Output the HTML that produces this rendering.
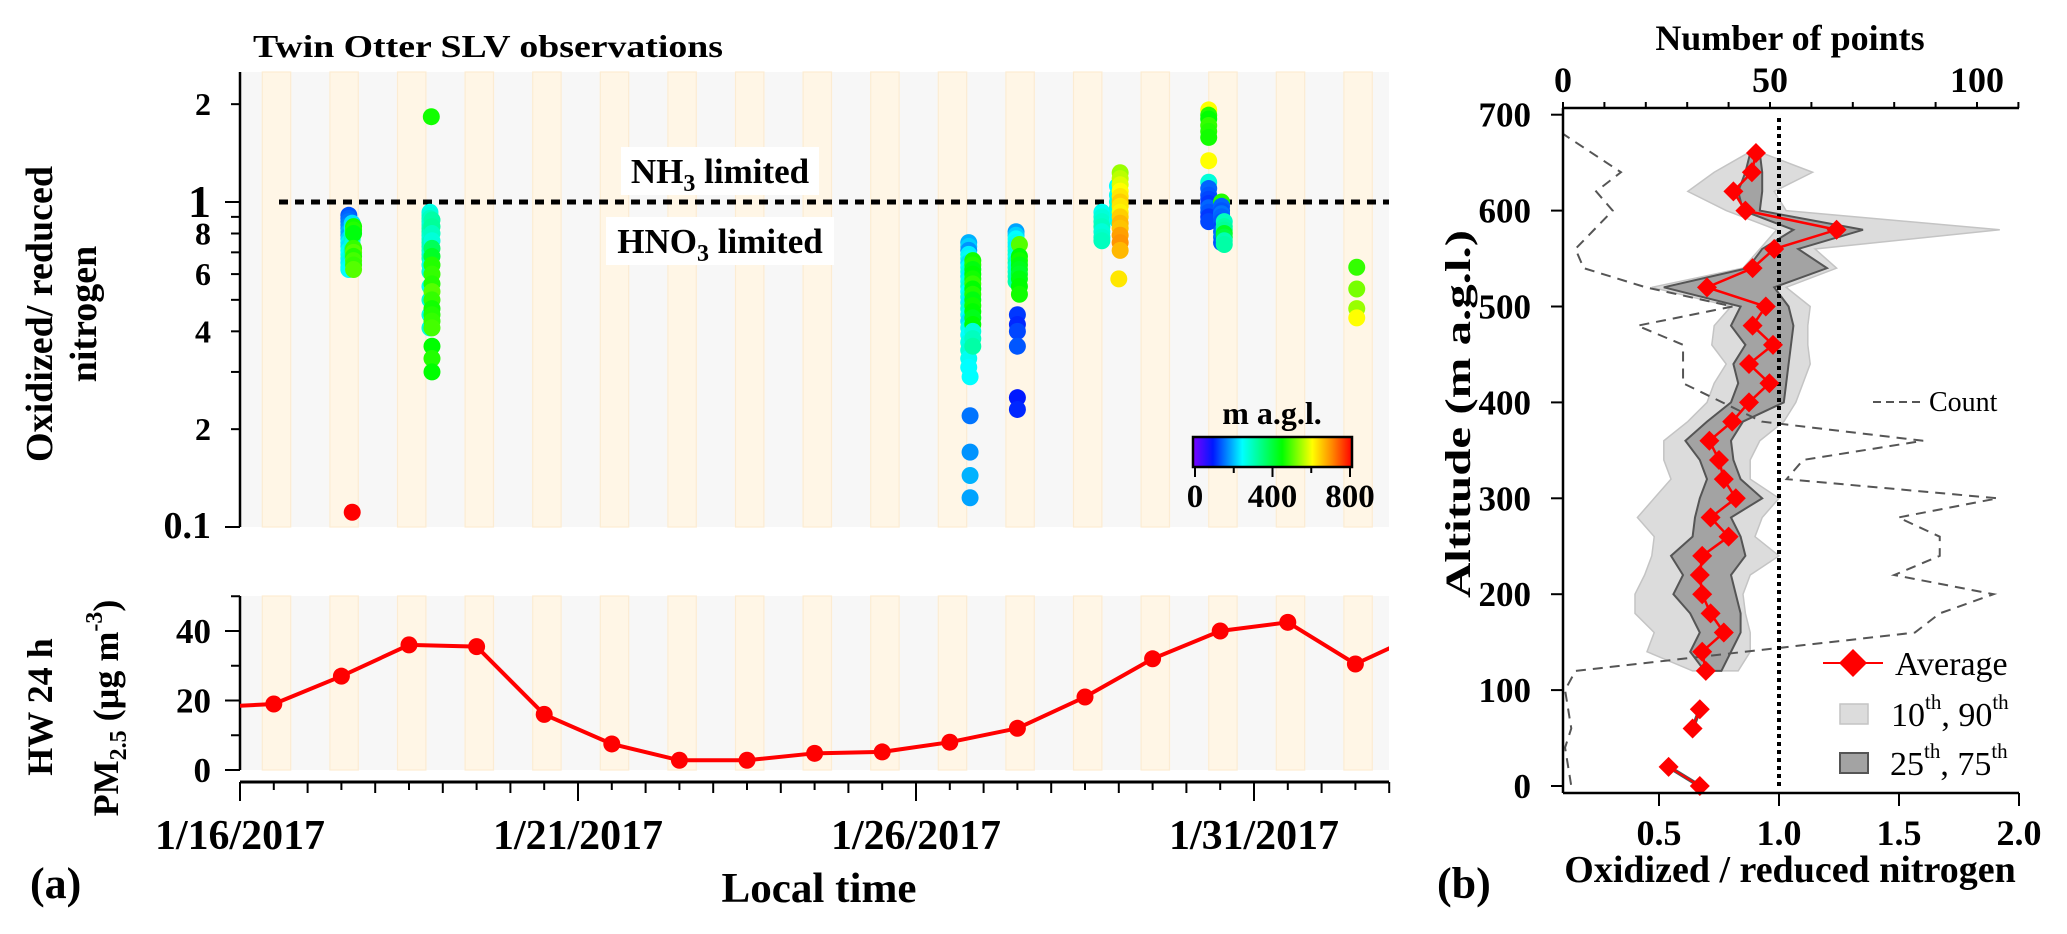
<!DOCTYPE html>
<html><head><meta charset="utf-8"><style>
html,body{margin:0;padding:0;background:#fff;}
svg{display:block;font-family:"Liberation Serif",serif;}
</style></head><body>
<svg id="fig" width="2067" height="934" viewBox="0 0 2067 934" xmlns="http://www.w3.org/2000/svg">
<defs>
<linearGradient id="jet" x1="0" x2="1" y1="0" y2="0">
<stop offset="0" stop-color="#7a00ff"/><stop offset="0.125" stop-color="#0018ff"/><stop offset="0.31" stop-color="#00ffff"/><stop offset="0.56" stop-color="#00ff00"/><stop offset="0.75" stop-color="#ffff00"/><stop offset="0.875" stop-color="#ff8800"/><stop offset="1" stop-color="#ff0000"/>
</linearGradient>
<clipPath id="clipTop"><rect x="240" y="72" width="1149" height="455"/></clipPath>
<clipPath id="clipBot"><rect x="240" y="590" width="1149" height="185"/></clipPath>
</defs>
<g id="gA"></g>
<g id="gB"></g>
</svg>
<script>
// ---------- Panel (a) data ----------
const scatDay = [
 1.61,1.61,1.61,1.61,1.61,1.61,1.61,1.61,1.61,1.61,1.61,1.61,1.61,1.61,1.61,1.61,
 1.66,1.66,1.66,1.66,1.66,1.66,1.66,1.66,
 1.68,1.68,1.68,1.68,1.68,1.68,1.68,1.68,1.68,
 1.66,
 2.83,
 2.81,2.81,2.81,2.81,2.81,2.81,2.81,2.81,2.81,2.81,2.81,2.81,2.81,2.81,2.81,2.81,2.81,2.81,2.81,2.81,
 2.84,2.84,2.84,2.84,2.84,2.84,2.84,2.84,2.84,2.84,2.84,2.84,2.84,2.84,2.84,2.84,2.84,2.84,
 10.78,10.78,10.78,10.78,10.78,10.78,10.78,10.78,10.78,10.78,10.78,10.78,10.78,10.78,10.78,10.78,10.78,10.78,10.78,10.78,10.78,10.78,10.78,
 10.84,10.84,10.84,10.84,10.84,10.84,10.84,10.84,10.84,10.84,10.84,10.84,10.84,10.84,10.84,10.84,
 10.8,10.8,10.8,10.8,10.8,
 11.48,11.48,11.48,11.48,11.48,11.48,11.48,11.48,11.48,11.48,11.48,11.48,11.48,
 11.53,11.53,11.53,11.53,11.53,11.53,11.53,11.53,11.53,
 11.5,11.5,11.5,11.5,11.5,11.5,
 12.75,12.75,12.75,12.75,12.75,12.75,12.75,
 12.98,12.98,12.98,12.98,12.98,12.98,
 13.02,13.02,13.02,13.02,13.02,13.02,13.02,13.02,13.02,13.02,13.02,13.02,13.02,13.02,
 13.0,
 14.33,14.33,14.33,14.33,14.33,14.33,14.33,14.33,14.33,14.33,14.33,14.33,14.33,14.33,14.33,14.33,
 14.52,14.52,14.52,14.52,14.52,14.52,14.52,14.52,14.52,14.52,
 14.56,14.56,14.56,14.56,14.56,14.56,14.56,
 16.52,16.52,16.52,16.52];
const scatRatio = [
 0.91,0.89,0.87,0.85,0.83,0.81,0.79,0.77,0.75,0.73,0.71,0.69,0.67,0.65,0.63,0.62,
 0.86,0.83,0.8,0.77,0.74,0.71,0.68,0.65,
 0.84,0.82,0.8,0.72,0.7,0.68,0.66,0.64,0.62,
 0.111,
 1.83,
 0.93,0.91,0.89,0.87,0.85,0.83,0.81,0.79,0.77,0.75,0.73,0.71,0.69,0.67,0.64,0.61,0.55,0.5,0.45,0.41,
 0.88,0.84,0.8,0.76,0.72,0.68,0.64,0.6,0.56,0.53,0.5,0.47,0.45,0.43,0.41,0.36,0.33,0.30,
 0.75,0.73,0.71,0.69,0.67,0.65,0.63,0.61,0.59,0.57,0.55,0.53,0.51,0.49,0.47,0.45,0.43,0.41,0.39,0.37,0.35,0.33,0.31,
 0.66,0.64,0.62,0.6,0.58,0.56,0.54,0.52,0.5,0.48,0.46,0.44,0.42,0.4,0.38,0.36,
 0.29,0.22,0.17,0.144,0.123,
 0.81,0.79,0.77,0.75,0.73,0.71,0.69,0.67,0.65,0.63,0.61,0.59,0.57,
 0.74,0.68,0.66,0.64,0.62,0.6,0.58,0.55,0.52,
 0.45,0.42,0.4,0.36,0.25,0.23,
 0.93,0.9,0.87,0.84,0.81,0.78,0.76,
 1.12,1.05,1.0,0.96,0.92,0.88,
 1.23,1.18,1.13,1.08,1.04,1.0,0.97,0.93,0.9,0.86,0.83,0.79,0.75,0.71,
 0.58,
 1.92,1.85,1.8,1.72,1.65,1.58,1.34,1.15,1.1,1.05,1.02,0.99,0.96,0.93,0.9,0.87,
 1.0,0.97,0.94,0.92,0.9,0.87,0.84,0.81,0.78,0.75,
 0.87,0.84,0.82,0.8,0.78,0.76,0.74,
 0.63,0.54,0.47,0.44];
const scatAlt = [
 140,150,160,170,180,200,190,220,240,230,260,250,270,240,260,250,
 230,260,280,300,280,320,300,260,
 460,470,440,480,500,470,490,480,500,
 800,
 460,
 270,280,300,290,280,300,310,290,280,300,300,290,280,300,270,280,260,280,270,280,
 320,330,300,280,380,420,470,480,470,500,480,460,470,480,490,450,470,450,
 200,220,180,240,260,230,250,270,240,260,280,250,270,240,280,260,230,260,250,270,280,260,250,
 460,470,440,450,460,480,450,470,440,460,450,430,450,280,300,320,
 250,160,180,200,190,
 190,220,250,260,240,270,280,260,300,280,290,300,310,
 500,450,460,440,430,420,440,450,460,
 120,110,130,140,100,110,
 260,280,290,300,280,290,300,
 250,260,270,280,270,260,
 540,560,580,600,620,640,620,610,640,660,650,680,690,660,
 620,
 600,470,450,480,470,460,600,280,150,140,130,120,150,140,120,130,
 470,150,140,160,150,140,130,150,160,140,
 300,320,330,420,400,310,320,
 480,520,540,600];
const pmDay = [-0.5,0.5,1.5,2.5,3.5,4.5,5.5,6.5,7.5,8.5,9.5,10.5,11.5,12.5,13.5,14.5,15.5,16.5,17.5];
const pmVal = [18,19,27,36,35.5,16,7.5,2.8,2.8,4.8,5.2,8,12,21,32,40,42.5,30.5,39.5];
const topTickVals = [2,1,0.8,0.6,0.4,0.2,0.1];
const topTickLabels = ["2","1","8","6","4","2","0.1"];
const pmTickVals = [0,20,40];
const dateTickDays = [0,5,10,15];
const dateTickLabels = ["1/16/2017","1/21/2017","1/26/2017","1/31/2017"];

// ---------- Panel (b) data ----------
const avgAlt = [660,640,620,600,580,560,540,520,500,480,460,440,420,400,380,360,340,320,300,280,260,240,220,200,180,160,140,120];
const avgVal = [0.904,0.887,0.81,0.86,1.24,0.98,0.89,0.70,0.945,0.89,0.975,0.875,0.96,0.875,0.805,0.71,0.75,0.77,0.82,0.715,0.79,0.68,0.67,0.68,0.715,0.77,0.68,0.695];
const p10 = [0.87,0.73,0.62,0.78,0.99,0.92,0.85,0.47,0.80,0.73,0.72,0.78,0.73,0.70,0.62,0.52,0.52,0.55,0.48,0.41,0.48,0.47,0.44,0.40,0.40,0.48,0.45,0.64];
const p25 = [0.88,0.86,0.83,0.85,1.06,0.93,0.87,0.52,0.84,0.80,0.86,0.81,0.83,0.80,0.70,0.61,0.67,0.70,0.67,0.65,0.64,0.55,0.60,0.56,0.63,0.67,0.63,0.69];
const p75 = [0.92,0.93,0.93,0.92,1.35,1.08,1.20,0.98,1.04,1.06,1.05,1.04,1.03,1.02,0.85,0.80,0.81,0.84,0.93,0.80,0.84,0.86,0.80,0.82,0.84,0.84,0.80,0.76];
const p90 = [0.93,1.14,0.98,1.03,1.92,1.15,1.24,1.03,1.13,1.12,1.12,1.13,1.10,1.07,1.02,0.92,0.88,0.88,1.00,0.93,0.90,1.00,0.88,0.85,0.86,0.88,0.88,0.83];
const lowSegAlt = [[80,60],[20,0]];
const lowSegVal = [[0.67,0.64],[0.54,0.67]];
const countAlt = [700,680,640,620,600,560,540,520,500,480,460,420,380,360,340,320,300,280,260,240,220,200,180,160,120,100,60,40,0];
const countVal = [0,0,14,8,12,3,5,20,41,18,29,29,48,87,58,54,105,81,91,91,80,104,91,85,3,0.5,2,0.5,2];
const altTicks = [0,100,200,300,400,500,600,700];
const ratioTicks = [0.5,1.0,1.5,2.0];
const countTicks = [0,50,100];

const NS="http://www.w3.org/2000/svg";
function mk(tag,attrs,parent,text){const e=document.createElementNS(NS,tag);for(const k in attrs)e.setAttribute(k,attrs[k]);if(text!==undefined)e.textContent=text;parent.appendChild(e);return e;}
const gA=document.getElementById('gA'), gB=document.getElementById('gB');

const X0=240, PXD=67.6, XR=1389;
const xd = d => X0 + d*PXD;
const yR = v => 202 - Math.log10(v)*325;
const yP = v => 770 - v*3.475;
function jet(a){
  const st=[[0,[122,0,255]],[100,[0,24,255]],[250,[0,255,255]],[450,[0,255,0]],[600,[255,255,0]],[700,[255,136,0]],[800,[255,0,0]]];
  for(let i=0;i<st.length-1;i++){if(a<=st[i+1][0]){const t=(a-st[i][0])/(st[i+1][0]-st[i][0]);const c=st[i][1].map((v,j)=>Math.round(v+(st[i+1][1][j]-v)*t));return `rgb(${c})`;}}
  return 'rgb(255,0,0)';
}

function bands(y0,h,name){
  const g=mk('g',{},gA);
  
  
  mk('rect',{x:X0,y:y0,width:XR-X0,height:h,fill:'#f7f7f7'},g);
  for(let d=0;d<17;d++){
    const r=mk('rect',{x:xd(d+0.33),y:y0,width:0.42*PXD,height:h,fill:'#fff6e6',stroke:'#fcecd2','stroke-width':1.2},g);
    
    
  }
}
bands(72,455,'top-background-bands');
bands(596,174,'bottom-background-bands');

const ttl=mk('text',{x:253,y:57,'font-size':32,'font-weight':'bold',textLength:470,lengthAdjust:'spacingAndGlyphs'},gA,'Twin Otter SLV observations');



const ya=mk('g',{},gA);


mk('line',{x1:X0,y1:72,x2:X0,y2:527,stroke:'#000','stroke-width':2.5},ya);
[2,1,0.9,0.8,0.7,0.6,0.5,0.4,0.3,0.2,0.1].forEach(v=>{
  const maj=(v===1||v===0.1);
  mk('line',{x1:X0-(maj?15:9),y1:yR(v),x2:X0,y2:yR(v),stroke:'#000','stroke-width':2},ya);
});
topTickVals.forEach((v,i)=>{
  const big=(v===1);const small01=(v===0.1);
  const t=mk('text',{x:211,y:yR(v)+(big?15:11),'font-size':big?46:(small01?38:32),'font-weight':'bold','text-anchor':'end'},ya,topTickLabels[i]);
  
  
});
const yt1=mk('text',{transform:'translate(52,314) rotate(-90)','font-size':38,'font-weight':'bold','text-anchor':'middle'},gA,'Oxidized/ reduced');


const yt2=mk('text',{transform:'translate(96,314) rotate(-90)','font-size':38,'font-weight':'bold','text-anchor':'middle'},gA,'nitrogen');



function boxLabel(x,y,w,h,main,sub,rest,name){
  const g=mk('g',{},gA);
  
  
  mk('rect',{x:x-w/2,y:y-h/2,width:w,height:h,fill:'#fff'},g);
  const t=mk('text',{x:x,y:y+12,'font-size':35,'font-weight':'bold','text-anchor':'middle'},g);
  mk('tspan',{},t,main);mk('tspan',{'font-size':24,dy:8},t,sub);mk('tspan',{dy:-8},t,rest);
}
boxLabel(720,171,198,48,'NH','3',' limited','nh3-limited-label');
boxLabel(720,241,228,48,'HNO','3',' limited','hno3-limited-label');

const thr=mk('line',{x1:279,y1:yR(1),x2:XR,y2:yR(1),stroke:'#000','stroke-width':5,'stroke-dasharray':'9 7'},gA);



const sg=mk('g',{'clip-path':'url(#clipTop)'},gA);


scatDay.forEach((d,i)=>{
  const c=mk('circle',{cx:xd(d),cy:yR(scatRatio[i]),r:8.5,fill:jet(scatAlt[i])},sg);
  
  
});

const cb=mk('g',{},gA);


mk('text',{x:1272,y:424,'font-size':32,'font-weight':'bold','text-anchor':'middle'},cb,'m a.g.l.');
mk('rect',{x:1193,y:437,width:159,height:30,fill:'url(#jet)',stroke:'#000','stroke-width':2.5},cb);
[0,200,400,600,800].forEach(v=>{const x=1195+v/800*155;mk('line',{x1:x,y1:467,x2:x,y2:v%400===0?477:473,stroke:'#000','stroke-width':2},cb);});
[0,400,800].forEach(v=>mk('text',{x:1195+v/800*155,y:507,'font-size':33,'font-weight':'bold','text-anchor':'middle'},cb,String(v)));

const pa=mk('g',{},gA);


mk('line',{x1:X0,y1:596,x2:X0,y2:770,stroke:'#000','stroke-width':2.5},pa);
[0,10,20,30,40,50].forEach(v=>mk('line',{x1:X0-(v%20===0?15:9),y1:yP(v),x2:X0,y2:yP(v),stroke:'#000','stroke-width':2},pa));
pmTickVals.forEach(v=>{const t=mk('text',{x:211,y:yP(v)+12,'font-size':35,'font-weight':'bold','text-anchor':'end'},pa,String(v));
  });
const pt1=mk('text',{transform:'translate(52,707) rotate(-90)','font-size':36,'font-weight':'bold','text-anchor':'middle'},gA,'HW 24 h');


const pt2=mk('text',{transform:'translate(118,708) rotate(-90)','font-size':36,'font-weight':'bold','text-anchor':'middle'},gA);


mk('tspan',{},pt2,'PM');mk('tspan',{'font-size':24,dy:8},pt2,'2.5');mk('tspan',{dy:-8},pt2,' (µg m');mk('tspan',{'font-size':24,dy:-16},pt2,'-3');mk('tspan',{dy:16},pt2,')');

const lg=mk('g',{'clip-path':'url(#clipBot)'},gA);


mk('polyline',{points:pmDay.map((d,i)=>xd(d)+','+yP(pmVal[i])).join(' '),fill:'none',stroke:'#ff0000','stroke-width':4},lg);
pmDay.forEach((d,i)=>{const c=mk('circle',{cx:xd(d),cy:yP(pmVal[i]),r:8.5,fill:'#ff0000'},lg);
  });

const xa=mk('g',{},gA);


mk('line',{x1:X0,y1:782,x2:XR,y2:782,stroke:'#000','stroke-width':3},xa);
for(let h=0;h<=34;h++){const d=h/2;const lab=(h%10===0);const len=lab?19:(h%2===0?11:8);
  mk('line',{x1:xd(d),y1:782,x2:xd(d),y2:782+len,stroke:'#000','stroke-width':2},xa);}
dateTickDays.forEach((d,i)=>{const t=mk('text',{x:xd(d),y:849,'font-size':42,'font-weight':'bold','text-anchor':'middle',textLength:170,lengthAdjust:'spacingAndGlyphs'},xa,dateTickLabels[i]);
  });
const xt=mk('text',{x:819,y:902,'font-size':42,'font-weight':'bold','text-anchor':'middle',textLength:195,lengthAdjust:'spacingAndGlyphs'},gA,'Local time');


const la=mk('text',{x:30,y:898,'font-size':44,'font-weight':'bold'},gA,'(a)');



// ---------- Panel (b) ----------
const bx = v => 1563 + (v-0.1)*240;
const by = a => 786 - a*0.959;
const cx = c => 1563 + c*4.14;

const p90band=mk('polygon',{points:avgAlt.map((a,i)=>bx(p10[i])+','+by(a)).concat(avgAlt.map((a,i)=>bx(p90[i])+','+by(a)).reverse()).join(' '),fill:'#dcdcdc',stroke:'#c4c4c4','stroke-width':1.5},gB);


const p75band=mk('polygon',{points:avgAlt.map((a,i)=>bx(p25[i])+','+by(a)).concat(avgAlt.map((a,i)=>bx(p75[i])+','+by(a)).reverse()).join(' '),fill:'#a3a3a3',stroke:'#555','stroke-width':2},gB);



const cl=mk('polyline',{points:countAlt.map((a,i)=>cx(countVal[i])+','+by(a)).join(' '),fill:'none',stroke:'#555','stroke-width':2,'stroke-dasharray':'10 7'},gB);



const dl=mk('line',{x1:bx(1),y1:118,x2:bx(1),y2:786,stroke:'#000','stroke-width':4,'stroke-dasharray':'4 4'},gB);



const al=mk('polyline',{points:avgAlt.map((a,i)=>bx(avgVal[i])+','+by(a)).join(' '),fill:'none',stroke:'#ff0000','stroke-width':2.5},gB);


lowSegAlt.forEach((seg,k)=>{
  mk('polyline',{points:seg.map((a,i)=>bx(lowSegVal[k][i])+','+by(a)).join(' '),fill:'none',stroke:'#555','stroke-width':4},gB);
  mk('polyline',{points:seg.map((a,i)=>bx(lowSegVal[k][i])+','+by(a)).join(' '),fill:'none',stroke:'#ff0000','stroke-width':2},gB);
});
function diamond(x,y,s,name){const d=mk('polygon',{points:`${x},${y-s} ${x+s},${y} ${x},${y+s} ${x-s},${y}`,fill:'#ff0000'},gB);
  }
avgAlt.forEach((a,i)=>diamond(bx(avgVal[i]),by(a),10,'average-point'));
lowSegAlt.forEach((seg,k)=>seg.forEach((a,i)=>diamond(bx(lowSegVal[k][i]),by(a),10,'average-point')));

const lax=mk('g',{},gB);


mk('line',{x1:1563,y1:108,x2:1563,y2:793,stroke:'#000','stroke-width':2.5},lax);
altTicks.forEach(a=>{mk('line',{x1:1551,y1:by(a),x2:1563,y2:by(a),stroke:'#000','stroke-width':2},lax);
  const t=mk('text',{x:1531,y:by(a)+12,'font-size':35,'font-weight':'bold','text-anchor':'end'},lax,String(a));
  });
const at=mk('text',{transform:'translate(1470,414) rotate(-90)','font-size':36,'font-weight':'bold','text-anchor':'middle',textLength:368,lengthAdjust:'spacingAndGlyphs'},gB,'Altitude (m a.g.l.)');



const bax=mk('g',{},gB);


mk('line',{x1:1563,y1:793,x2:2019,y2:793,stroke:'#000','stroke-width':2.5},bax);
ratioTicks.forEach(v=>{mk('line',{x1:bx(v),y1:793,x2:bx(v),y2:806,stroke:'#000','stroke-width':2},bax);
  const t=mk('text',{x:bx(v),y:845,'font-size':36,'font-weight':'bold','text-anchor':'middle'},bax,v.toFixed(1));
  });
const bt=mk('text',{x:1790,y:882,'font-size':38,'font-weight':'bold','text-anchor':'middle'},gB,'Oxidized / reduced nitrogen');



const tax=mk('g',{},gB);


mk('line',{x1:1563,y1:108,x2:2019,y2:108,stroke:'#000','stroke-width':2.5},tax);
for(let c=0;c<=110;c+=10)mk('line',{x1:cx(c),y1:102,x2:cx(c),y2:108,stroke:'#000','stroke-width':2},tax);
countTicks.forEach(c=>{const t=mk('text',{x:cx(c),y:92,'font-size':36,'font-weight':'bold','text-anchor':'middle'},tax,String(c));
  });
const ct=mk('text',{x:1790,y:50,'font-size':36,'font-weight':'bold','text-anchor':'middle'},gB,'Number of points');



const lgB=mk('g',{},gB);


mk('line',{x1:1873,y1:402,x2:1925,y2:402,stroke:'#555','stroke-width':2,'stroke-dasharray':'8 5'},lgB);
mk('text',{x:1929,y:411,'font-size':28},lgB,'Count');
mk('line',{x1:1823,y1:663,x2:1883,y2:663,stroke:'#ff0000','stroke-width':2},lgB);
mk('polygon',{points:'1853,649 1867,663 1853,677 1839,663',fill:'#ff0000'},lgB);
mk('text',{x:1895,y:675,'font-size':34},lgB,'Average');
mk('rect',{x:1840,y:704,width:28,height:20,fill:'#dcdcdc',stroke:'#c4c4c4','stroke-width':1.5},lgB);
const t1=mk('text',{x:1891,y:726,'font-size':34},lgB);
mk('tspan',{},t1,'10');mk('tspan',{'font-size':21,dy:-17},t1,'th');mk('tspan',{dy:17},t1,', 90');mk('tspan',{'font-size':21,dy:-17},t1,'th');
mk('rect',{x:1840,y:753,width:28,height:20,fill:'#a3a3a3',stroke:'#555','stroke-width':2},lgB);
const t2=mk('text',{x:1890,y:775,'font-size':34},lgB);
mk('tspan',{},t2,'25');mk('tspan',{'font-size':21,dy:-17},t2,'th');mk('tspan',{dy:17},t2,', 75');mk('tspan',{'font-size':21,dy:-17},t2,'th');

const lb=mk('text',{x:1437,y:898,'font-size':44,'font-weight':'bold'},gB,'(b)');


</script>
</body></html>
